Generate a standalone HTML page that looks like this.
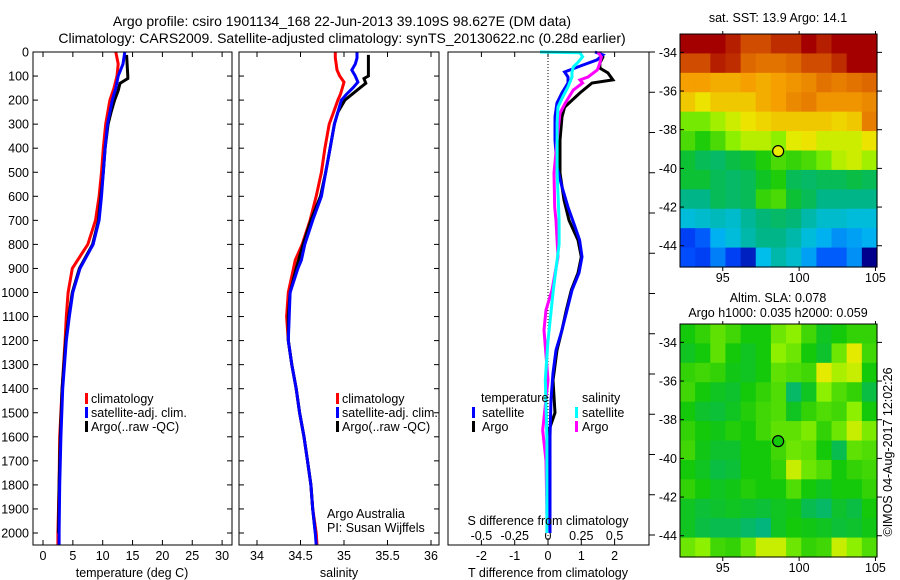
<!DOCTYPE html>
<html><head><meta charset="utf-8"><style>
html,body{margin:0;padding:0;background:#fff;}
svg{display:block;font-family:"Liberation Sans",sans-serif;}
text{fill:#000;}
</style></head><body>
<svg id="fig" width="900" height="580" viewBox="0 0 900 580">
<text x="342" y="26" font-size="14" text-anchor="middle">Argo profile: csiro 1901134_168 22-Jun-2013 39.109S 98.627E (DM data)</text>
<text x="342" y="43" font-size="14" text-anchor="middle">Climatology: CARS2009. Satellite-adjusted climatology: synTS_20130622.nc (0.28d earlier)</text>
<g id="p1"></g>
<g id="p2"></g>
<g id="p3"></g>
<g id="m1"></g>
<g id="m2"></g>
<text x="778" y="22" font-size="12.5" text-anchor="middle">sat. SST: 13.9 Argo: 14.1</text>
<text x="778" y="302" font-size="12.5" text-anchor="middle">Altim. SLA: 0.078</text>
<text x="778" y="317" font-size="12.5" text-anchor="middle">Argo h1000: 0.035 h2000: 0.059</text>
<text transform="translate(892,452) rotate(-90)" font-size="12.5" text-anchor="middle">©IMOS 04-Aug-2017 12:02:26</text>
</svg>
<script>
// ---------- data ----------
const tDepths = [0,50,100,150,200,300,400,500,600,700,800,900,1000,1100,1200,1400,1600,1800,2000,2050];
const tClim = [12.2,12.6,12.4,11.9,11.2,10.5,10.1,9.8,9.4,8.8,7.5,4.9,4.2,3.9,3.7,3.2,2.8,2.7,2.5,2.5];
const tSat = [13.7,13.4,12.6,12.2,11.6,10.8,10.4,10.1,9.8,9.4,8.4,6.2,5.0,4.4,3.9,3.3,3.0,2.8,2.7,2.7];
const tArgoDepths = [12,100,110,130,160,200,250,300,400,500,600,700,800,900,1000,1100,1200,1400,1600,1800,2000];
const tArgo = [14.0,14.2,14.2,12.9,12.6,12.0,11.4,10.9,10.4,10.1,9.7,9.3,8.3,6.1,4.9,4.3,3.8,3.2,2.9,2.7,2.6];

const sDepths = [0,25,50,75,100,125,150,175,200,250,300,400,500,600,700,800,865,900,1000,1100,1200,1300,1400,1500,1600,1700,1800,1900,2000,2050];
const sClim = [34.90,34.90,34.91,34.92,34.95,35.0,34.98,34.96,34.93,34.88,34.83,34.78,34.74,34.68,34.61,34.52,34.44,34.42,34.36,34.34,34.36,34.40,34.45,34.49,34.54,34.58,34.62,34.64,34.68,34.69];
const sSat = [35.15,35.15,35.13,35.09,35.13,35.16,35.10,35.03,34.97,34.93,34.89,34.84,34.79,34.74,34.64,34.55,34.51,34.47,34.38,34.37,34.36,34.40,34.45,34.49,34.54,34.58,34.62,34.64,34.67,34.68];
const sArgoDepths = [12,100,110,130,150,200,250,300,400,500,600,700,800,900,1000,1100,1200,1300,1400,1500,1600,1700,1800,1900,2000];
const sArgo = [35.28,35.28,35.23,35.25,35.18,35.01,34.93,34.89,34.84,34.79,34.73,34.62,34.53,34.45,34.38,34.36,34.36,34.40,34.45,34.49,34.54,34.58,34.62,34.64,34.67];

const dTSatDepths = [0,12,33,54,83,104,129,170,212,270,366,478,561,645,727,782,852,919,990,1073,1156,1240,1335,1447,1600,1800,2000];
const dTSat = [1.41,1.65,1.47,1.05,0.5,0.6,0.6,0.42,0.27,0.21,0.21,0.27,0.42,0.6,0.81,0.95,1.02,0.93,0.72,0.57,0.42,0.24,0.15,0.09,0.06,0.06,0.06];
const dTArgoDepths = [0,21,46,67,87,116,129,170,229,270,366,503,615,700,782,852,919,990,1073,1156,1240,1335,1364,1500,1572,1700,2000];
const dTArgo = [1.53,1.65,1.56,1.56,1.8,1.95,1.32,0.96,0.5,0.42,0.36,0.36,0.48,0.63,0.9,1.0,0.9,0.7,0.55,0.42,0.27,0.18,0.15,0.21,0.03,0.03,0.03];
const dSSatDepths = [0,3,20,46,62,83,104,145,187,229,295,500,700,800,990,1200,1364,1600,2000];
const dSSat = [-0.06,0.24,0.26,0.22,0.19,0.18,0.18,0.15,0.11,0.075,0.068,0.068,0.083,0.083,0.04,0,-0.02,-0.008,-0.008];
const dSArgoDepths = [0,21,46,75,104,116,129,158,212,254,366,503,645,700,852,990,1073,1156,1364,1572,1700,1917,2000];
const dSArgo = [0.375,0.4,0.39,0.37,0.3,0.24,0.26,0.19,0.13,0.09,0.068,0.045,0.05,0.06,0.075,0.03,-0.015,-0.03,0,-0.04,-0.015,-0.008,-0.006];

const depthTicks = [0,100,200,300,400,500,600,700,800,900,1000,1100,1200,1300,1400,1500,1600,1700,1800,1900,2000];
const tTicks = [0,5,10,15,20,25,30];
const sTicks = ["34","34.5","35","35.5","36"];
const dTTicks = ["-2","-1","0","1","2"];
const dSTicks = ["-0.5","-0.25","0","0.25","0.5"];
const latTicks = [-34,-36,-38,-40,-42,-44];
const lonTicks = [95,100,105];

// SST map (rows north->south, cols west->east), deg C
const sstGrid = [
[16.5,16.5,16.5,16.3,16.0,16.0,16.2,16.2,16.5,16.3,16.5,16.5,16.5],
[16.0,16.0,16.3,16.2,15.8,15.7,15.7,15.8,16.0,16.0,16.2,16.5,16.5],
[15.3,15.3,15.2,15.2,15.3,15.2,15.3,15.4,15.5,15.7,15.6,15.7,15.8],
[15.0,14.8,15.0,15.0,15.0,15.2,15.3,15.5,15.6,15.4,15.4,15.4,15.5],
[14.2,14.2,14.4,14.6,14.8,14.9,15.0,15.0,15.0,15.0,14.9,15.0,15.6],
[14.0,13.8,14.0,14.3,14.5,14.5,14.3,14.7,14.8,14.6,14.6,14.6,14.8],
[13.5,13.3,13.2,13.4,13.5,13.8,14.0,13.9,14.0,14.2,14.5,14.6,14.4],
[13.5,13.5,13.3,13.2,13.3,13.6,13.8,13.3,13.2,13.3,13.3,13.4,13.3],
[13.0,13.0,13.3,13.2,13.3,13.9,14.0,13.5,13.3,13.0,13.0,13.0,13.0],
[12.5,12.6,12.7,12.6,12.9,13.1,13.2,13.1,12.8,12.6,12.6,12.5,12.5],
[11.6,11.8,12.3,12.5,12.8,13.0,13.0,12.8,12.5,12.3,12.1,12.2,12.3],
[11.7,11.6,12.0,11.6,11.3,12.4,12.8,12.6,12.2,11.8,11.8,12.1,11.0]];
// SLA map, metres
const slaGrid = [
[0,0.02,0.05,0.03,0,0,0.06,0.08,0.03,-0.02,0,0.02,0.02],
[-0.02,0,0.05,0,-0.02,0,0.08,0.06,0,-0.03,0.06,0.14,0.03],
[0.02,0.03,0.02,-0.01,-0.02,0,0.05,0.04,0.03,0.14,0.1,0.12,0],
[0.03,0,-0.02,-0.03,0,0.02,0.04,-0.08,-0.02,0.08,0.04,0.02,-0.05],
[0,-0.03,-0.04,-0.02,0.01,0.03,0.04,-0.02,0.02,0.04,0.03,0.08,0],
[0.02,0,-0.01,0.01,0,0.03,0.05,0.05,0.07,0.02,0.06,0.12,0.07],
[0.03,-0.01,-0.03,-0.03,0,0,0.03,0.06,0.05,0,-0.06,0.05,0.04],
[0,-0.02,-0.05,-0.04,0,0,0.02,0.12,0.06,0.04,0,0.02,0.03],
[0.02,0,-0.02,-0.01,0.01,0,0,0.04,0,-0.02,0,0,0.02],
[-0.02,-0.04,-0.03,-0.02,-0.03,-0.04,-0.02,-0.01,-0.06,-0.08,-0.03,-0.05,0],
[-0.02,-0.05,-0.06,-0.06,-0.08,-0.1,-0.02,0,-0.01,-0.02,-0.04,-0.03,-0.01],
[0.06,0.08,0.03,0.02,0.06,0.12,0.12,0.06,0.02,0.03,0.12,0.08,0.04]];
const argoLon = 98.627, argoLat = -39.109;

// ---------- axes ----------
const NS = "http://www.w3.org/2000/svg";
const PT = 52, PB = 545;
const yD = d => PT + d * 0.2405;
const xT = t => 43 + t * 5.97;
const xS = s => 257 + (s - 34) * 87;
const xDT = v => 548 + v * 33.3;
const xDS = v => 548 + v * 133.2;
const MX0 = 680, MX1 = 877, LON0 = 92.2, LON1 = 105.1;
const xLon = l => MX0 + (l - LON0) * (MX1 - MX0) / (LON1 - LON0);
const LAT0 = -33.05, LAT1 = -45.1;
const yLatTop = l => 34 + (l - LAT0) * (267 - 34) / (LAT1 - LAT0);
const yLatBot = l => 324 + (l - LAT0) * (557 - 324) / (LAT1 - LAT0);

function mk(parent, tag, attrs, txt){
  const e = document.createElementNS(NS, tag);
  for (const k in attrs) e.setAttribute(k, attrs[k]);
  if (txt !== undefined) e.textContent = txt;
  parent.appendChild(e);
  return e;
}
function line(g, x1,y1,x2,y2, name, extra){
  const e = mk(g,'line',Object.assign({x1,y1,x2,y2,stroke:'#000','stroke-width':1},extra||{}));
  
  
  return e;
}
function txt(g, x, y, s, anchor, name, size){
  const e = mk(g,'text',{x,y,'font-size':size||12.5,'text-anchor':anchor||'middle'}, s);
  
  
  return e;
}
function profile(g, depths, vals, fx, color, name, w){
  const pts = depths.map((d,i)=> fx(vals[i]).toFixed(1)+','+yD(d).toFixed(1)).join(' ');
  const e = mk(g,'polyline',{points:pts,fill:'none',stroke:color,'stroke-width':w||3,'stroke-linejoin':'miter'});
  
  
}
function box(g, x0, x1, name){
  const e = mk(g,'rect',{x:x0,y:PT,width:x1-x0,height:PB-PT,fill:'none',stroke:'#000','stroke-width':1});
  
  
}
function legendMark(g, x, y, color, name){
  const e = mk(g,'rect',{x:x,y:y-10,width:3,height:11,fill:color});
  
  
}

// ---------- panel 1 ----------
const p1 = document.getElementById('p1');
depthTicks.forEach(d=>{
  line(p1, 33, yD(d), 38, yD(d), 'depth-tick');
  line(p1, 227, yD(d), 232, yD(d), 'depth-tick');
  txt(p1, 29, yD(d)+4.5, String(d), 'end', 'depth-tick-label');
});
tTicks.forEach(t=>{
  line(p1, xT(t), PB, xT(t), PB-5, 'temp-tick');
  line(p1, xT(t), PT, xT(t), PT+5, 'temp-tick');
  txt(p1, xT(t), 560, String(t), 'middle', 'temp-tick-label');
});
profile(p1, tDepths, tClim, xT, '#ff0000', 'temp-climatology-line');
profile(p1, tArgoDepths, tArgo, xT, '#000000', 'temp-argo-line');
profile(p1, tDepths, tSat, xT, '#0000ff', 'temp-satellite-line');
box(p1, 33, 232, 'temperature-axes-box');
txt(p1, 132, 577, 'temperature (deg C)', 'middle', 'temperature-axis-title');
legendMark(p1, 85, 403, '#ff0000', 'legend-climatology-marker');
txt(p1, 91, 403, 'climatology', 'start', 'legend-climatology');
legendMark(p1, 85, 417, '#0000ff', 'legend-satellite-marker');
txt(p1, 91, 417, 'satellite-adj. clim.', 'start', 'legend-satellite');
legendMark(p1, 85, 431, '#000000', 'legend-argo-marker');
txt(p1, 91, 431, 'Argo(..raw -QC)', 'start', 'legend-argo');

// ---------- panel 2 ----------
const p2 = document.getElementById('p2');
depthTicks.forEach(d=>{
  line(p2, 239, yD(d), 244, yD(d), 'depth-tick');
  line(p2, 434, yD(d), 439, yD(d), 'depth-tick');
});
sTicks.forEach(s=>{
  const x = xS(parseFloat(s));
  line(p2, x, PB, x, PB-5, 'sal-tick');
  line(p2, x, PT, x, PT+5, 'sal-tick');
  txt(p2, x, 560, s, 'middle', 'sal-tick-label');
});
profile(p2, sDepths, sClim, xS, '#ff0000', 'sal-climatology-line');
profile(p2, sArgoDepths, sArgo, xS, '#000000', 'sal-argo-line');
profile(p2, sDepths, sSat, xS, '#0000ff', 'sal-satellite-line');
box(p2, 239, 439, 'salinity-axes-box');
txt(p2, 339, 577, 'salinity', 'middle', 'salinity-axis-title');
legendMark(p2, 336, 403, '#ff0000', 'legend-climatology-marker');
txt(p2, 342, 403, 'climatology', 'start', 'legend-climatology');
legendMark(p2, 336, 417, '#0000ff', 'legend-satellite-marker');
txt(p2, 342, 417, 'satellite-adj. clim.', 'start', 'legend-satellite');
legendMark(p2, 336, 431, '#000000', 'legend-argo-marker');
txt(p2, 342, 431, 'Argo(..raw -QC)', 'start', 'legend-argo');
txt(p2, 327, 518, 'Argo Australia', 'start', 'credit-line-1');
txt(p2, 327, 532, 'PI: Susan Wijffels', 'start', 'credit-line-2');

// ---------- panel 3 ----------
const p3 = document.getElementById('p3');
for (let i=0;i<13;i++){
  const y = PT + i*(535-PT)/12;
  line(p3, 649, y, 655, y, 'right-tick');
}
dTTicks.forEach(s=>{
  const x = xDT(parseFloat(s));
  line(p3, x, PB, x, PB-5, 'tdiff-tick');
  line(p3, x, PT, x, PT+5, 'tdiff-tick');
  txt(p3, x, 560, s, 'middle', 'tdiff-tick-label');
});
dSTicks.forEach(s=>{
  txt(p3, xDS(parseFloat(s)), 540, s, 'middle', 'sdiff-tick-label');
});
line(p3, 548, PT, 548, PB, 'zero-line', {'stroke-dasharray':'1,2'});
profile(p3, dTArgoDepths, dTArgo, xDT, '#000000', 'tdiff-argo-line');
profile(p3, dTSatDepths, dTSat, xDT, '#0000ff', 'tdiff-satellite-line');
profile(p3, dSArgoDepths, dSArgo, xDS, '#ff00ff', 'sdiff-argo-line');
profile(p3, dSSatDepths, dSSat, xDS, '#00ffff', 'sdiff-satellite-line');
box(p3, 448, 649, 'difference-axes-box');
txt(p3, 548, 525, 'S difference from climatology', 'middle', 'sdiff-axis-title');
txt(p3, 548, 577, 'T difference from climatology', 'middle', 'tdiff-axis-title');
txt(p3, 481, 402, 'temperature', 'start', 'legend-temperature-heading');
legendMark(p3, 472, 417, '#0000ff', 'legend-tsat-marker');
txt(p3, 482, 417, 'satellite', 'start', 'legend-tsat');
legendMark(p3, 472, 431, '#000000', 'legend-targo-marker');
txt(p3, 482, 431, 'Argo', 'start', 'legend-targo');
txt(p3, 582, 402, 'salinity', 'start', 'legend-salinity-heading');
legendMark(p3, 575, 417, '#00ffff', 'legend-ssat-marker');
txt(p3, 582, 417, 'satellite', 'start', 'legend-ssat');
legendMark(p3, 575, 431, '#ff00ff', 'legend-sargo-marker');
txt(p3, 582, 431, 'Argo', 'start', 'legend-sargo');

// ---------- maps ----------
const stops = [[0,[0,0,140]],[0.12,[0,70,255]],[0.25,[0,190,240]],[0.37,[0,180,130]],[0.5,[20,200,10]],[0.6,[140,240,0]],[0.68,[235,235,0]],[0.78,[245,160,0]],[0.88,[220,100,0]],[1,[165,0,0]]];
function cmap(t){
  t = Math.max(0, Math.min(1, t));
  for (let i=1;i<stops.length;i++){
    if (t <= stops[i][0]){
      const a = stops[i-1], b = stops[i], f = (t-a[0])/(b[0]-a[0]);
      const c = a[1].map((v,k)=>Math.round(v + (b[1][k]-v)*f));
      return 'rgb('+c.join(',')+')';
    }
  }
  return 'rgb(165,0,0)';
}
function drawMap(g, grid, vmin, vmax, yLat, y0, y1, dotFill, prefix){
  const nr = grid.length, nc = grid[0].length;
  const dLon = (LON1-LON0)/nc, dLat = (LAT1-LAT0)/nr;
  grid.forEach((row, r)=>{
    row.forEach((v, c)=>{
      const xa = xLon(LON0 + c*dLon), xb = xLon(LON0 + (c+1)*dLon);
      const ya = yLat(LAT0 + r*dLat), yb = yLat(LAT0 + (r+1)*dLat);
      const e = mk(g,'rect',{x:xa.toFixed(2),y:ya.toFixed(2),width:(xb-xa+0.6).toFixed(2),height:(yb-ya+0.6).toFixed(2),fill:cmap((v-vmin)/(vmax-vmin))});
      
      
    });
  });
  const fr = mk(g,'rect',{x:MX0,y:y0,width:MX1-MX0,height:y1-y0,fill:'none',stroke:'#000','stroke-width':1});
  
  
  latTicks.forEach(l=>{
    const y = yLat(l);
    line(g, MX0, y, MX0+4, y, prefix+'-lat-tick');
    line(g, MX1, y, MX1+5, y, prefix+'-lat-tick');
    txt(g, MX0-3, y+4.5, String(l), 'end', prefix+'-lat-label');
  });
  lonTicks.forEach(l=>{
    const x = xLon(l);
    line(g, x, y1, x, y1+4, prefix+'-lon-tick');
    line(g, x, y0, x, y0-3, prefix+'-lon-tick');
    txt(g, x, y1+15, String(l), 'middle', prefix+'-lon-label');
  });
  const dot = mk(g,'circle',{cx:xLon(argoLon),cy:yLat(argoLat),r:5.5,fill:dotFill,stroke:'#000','stroke-width':1.2});
  
  
}
drawMap(document.getElementById('m1'), sstGrid, 11, 16.5, yLatTop, 34, 267, 'rgb(235,235,0)', 'sst-map');
drawMap(document.getElementById('m2'), slaGrid, -0.4, 0.4, yLatBot, 324, 557, 'rgb(20,200,10)', 'sla-map');
</script>
</body></html>
